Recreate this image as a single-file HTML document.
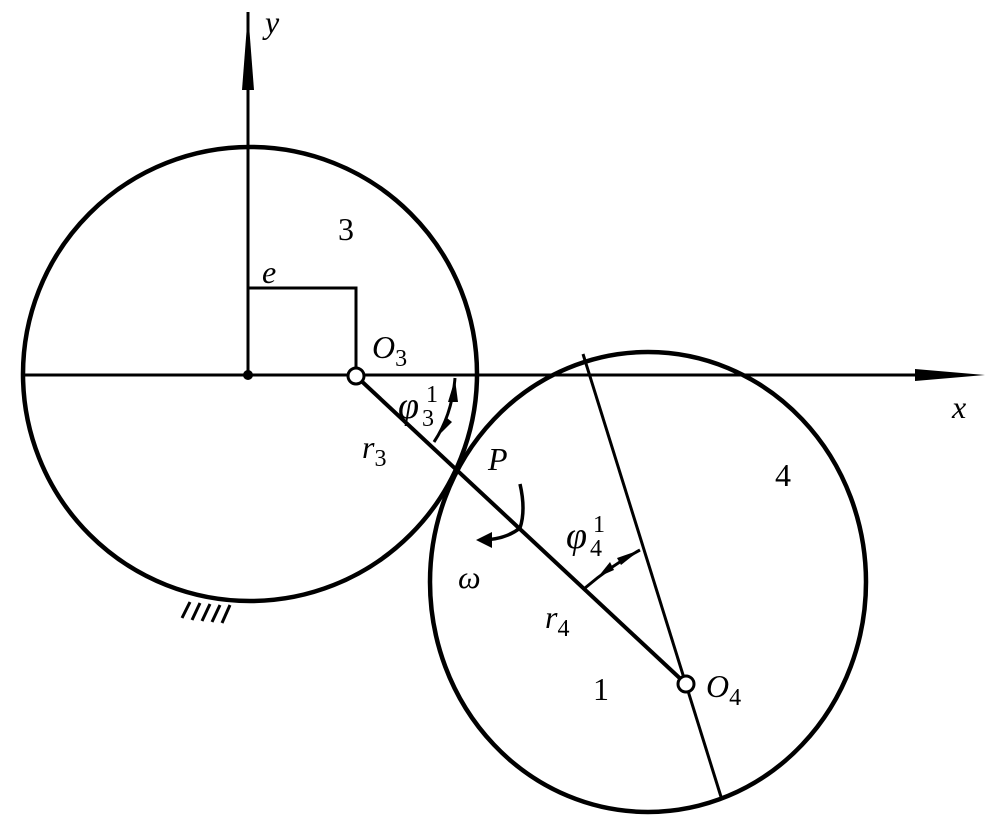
<!DOCTYPE html>
<html><head><style>body{margin:0;background:#fff}svg{display:block}text{font-family:"Liberation Serif",serif;fill:#000}</style></head><body>
<svg width="1000" height="826" viewBox="0 0 1000 826">
<g fill="none" stroke="#000">
<circle cx="250" cy="374" r="227" stroke-width="4.5"/>
<ellipse cx="648" cy="582" rx="218" ry="230" stroke-width="4.5"/>
<line x1="22" y1="375" x2="925" y2="375" stroke-width="3"/>
<line x1="248" y1="12" x2="248" y2="375" stroke-width="3"/>
<polyline points="248,288 356,288 356,370" stroke-width="3"/>
<line x1="356" y1="376" x2="686" y2="684" stroke-width="4"/>
<line x1="583" y1="354" x2="722" y2="800" stroke-width="3"/>
<path d="M455,378 Q452,415 434,442" stroke-width="3"/>
<path d="M585,588 Q612,565 640,550" stroke-width="3"/>
<path d="M520,484 Q526,510 520,528 Q505,540 480,540" stroke-width="3.5"/>
<g stroke-width="3"><line x1="182" y1="618" x2="190" y2="602"/><line x1="192" y1="620" x2="200" y2="603"/><line x1="202" y1="621" x2="210" y2="604"/><line x1="212" y1="622" x2="220" y2="605"/><line x1="222" y1="623" x2="230" y2="605"/></g>
<circle cx="356" cy="376" r="8" fill="#fff" stroke-width="3"/>
<circle cx="686" cy="684" r="8" fill="#fff" stroke-width="3"/>
</g>
<polygon points="248,12 242,90 254,90" fill="#000"/>
<polygon points="985,375 915,369 915,381" fill="#000"/>
<circle cx="248" cy="375" r="5" fill="#000"/>
<polygon points="455,379 448,402 458,402" fill="#000"/>
<polygon points="441,433 447,418 452,422" fill="#000"/>
<polygon points="640,550 617,558 621,565" fill="#000"/>
<polygon points="598,577 610,562 614,570" fill="#000"/>
<polygon points="476,540 492,532 492,548" fill="#000"/>
<g font-size="32">
<text x="265" y="33" font-style="italic">y</text>
<text x="338" y="240">3</text>
<text x="262" y="283" font-style="italic">e</text>
<text x="372" y="358" font-style="italic">O<tspan font-size="24" dy="8" font-style="normal">3</tspan></text>
<text x="398" y="418" font-size="38" font-style="italic">φ</text><text x="422" y="426" font-size="24">3</text><text x="426" y="402" font-size="24">1</text>
<text x="362" y="458" font-style="italic">r<tspan font-size="24" dy="8" font-style="normal">3</tspan></text>
<text x="488" y="470" font-style="italic">P</text>
<text x="775" y="486">4</text>
<text x="458" y="588" font-style="italic">ω</text>
<text x="566" y="548" font-size="38" font-style="italic">φ</text><text x="590" y="556" font-size="24">4</text><text x="593" y="532" font-size="24">1</text>
<text x="545" y="628" font-style="italic">r<tspan font-size="24" dy="8" font-style="normal">4</tspan></text>
<text x="593" y="700">1</text>
<text x="706" y="697" font-style="italic">O<tspan font-size="24" dy="8" font-style="normal">4</tspan></text>
<text x="952" y="418" font-style="italic">x</text>
</g>
</svg>
</body></html>
